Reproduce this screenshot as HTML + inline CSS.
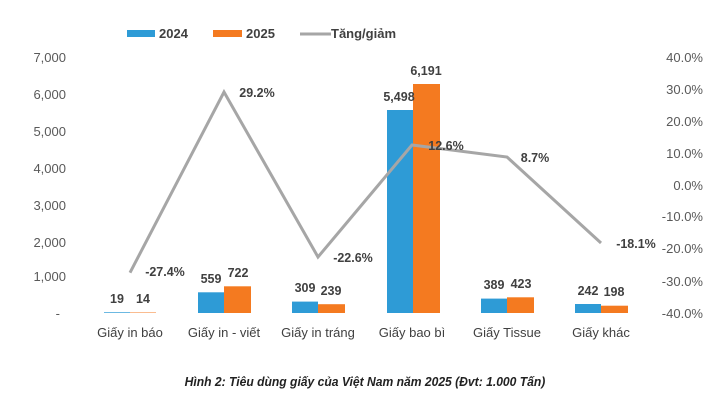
<!DOCTYPE html>
<html><head><meta charset="utf-8"><style>
body{margin:0;background:#fff;width:726px;height:402px;overflow:hidden}
</style></head><body>
<svg width="726" height="402" xmlns="http://www.w3.org/2000/svg" font-family="Liberation Sans, sans-serif">
<g font-size="13" fill="#595959" text-anchor="end">
<text x="66" y="62">7,000</text><text x="66" y="99">6,000</text><text x="66" y="136">5,000</text>
<text x="66" y="173">4,000</text><text x="66" y="210">3,000</text><text x="66" y="247">2,000</text>
<text x="66" y="281">1,000</text><text x="60" y="318">-</text>
</g>
<g font-size="13" fill="#595959" text-anchor="end">
<text x="703" y="62">40.0%</text><text x="703" y="94">30.0%</text><text x="703" y="126">20.0%</text>
<text x="703" y="158">10.0%</text><text x="703" y="190">0.0%</text><text x="703" y="221">-10.0%</text>
<text x="703" y="253">-20.0%</text><text x="703" y="286">-30.0%</text><text x="703" y="318">-40.0%</text>
</g>
<rect x="127" y="30" width="28" height="7" fill="#2e9bd6"/>
<text x="159" y="38" font-size="13" font-weight="bold" fill="#404040">2024</text>
<rect x="213" y="30" width="29" height="7" fill="#f47a20"/>
<text x="246" y="38" font-size="13" font-weight="bold" fill="#404040">2025</text>
<line x1="300" y1="34" x2="331" y2="34" stroke="#a6a6a6" stroke-width="3"/>
<text x="331" y="38" font-size="13" font-weight="bold" fill="#404040">Tăng/giảm</text>
<g fill="#2e9bd6">
<rect x="104" y="312.3" width="26" height="0.7"/>
<rect x="198" y="292.3" width="26" height="20.7"/>
<rect x="292" y="301.6" width="26" height="11.4"/>
<rect x="387" y="110" width="26" height="203"/>
<rect x="481" y="298.6" width="26" height="14.4"/>
<rect x="575" y="304" width="26" height="9"/>
</g>
<g fill="#f47a20">
<rect x="130" y="312.5" width="26" height="0.5"/>
<rect x="224" y="286.3" width="27" height="26.7"/>
<rect x="318" y="304.2" width="27" height="8.8"/>
<rect x="413" y="84" width="27" height="229"/>
<rect x="507" y="297.3" width="27" height="15.7"/>
<rect x="601" y="305.7" width="27" height="7.3"/>
</g>
<polyline points="130,272.7 224,92 318,257 412,145 507,157 601,243" fill="none" stroke="#a6a6a6" stroke-width="3"/>
<g font-size="12.5" font-weight="bold" fill="#404040" text-anchor="middle">
<text x="117" y="303">19</text><text x="143" y="303">14</text>
<text x="211" y="283">559</text><text x="238" y="277">722</text>
<text x="305" y="292">309</text><text x="331" y="295">239</text>
<text x="399" y="101">5,498</text><text x="426" y="75">6,191</text>
<text x="494" y="289">389</text><text x="521" y="288">423</text>
<text x="588" y="295">242</text><text x="614" y="296">198</text>
<text x="165" y="276">-27.4%</text><text x="257" y="97">29.2%</text>
<text x="353" y="262">-22.6%</text><text x="446" y="150">12.6%</text>
<text x="535" y="162">8.7%</text><text x="636" y="248">-18.1%</text>
</g>
<g font-size="13" fill="#404040" text-anchor="middle">
<text x="130" y="337">Giấy in báo</text><text x="224" y="337">Giấy in - viết</text>
<text x="318" y="337">Giấy in tráng</text><text x="412" y="337">Giấy bao bì</text>
<text x="507" y="337">Giấy Tissue</text><text x="601" y="337">Giấy khác</text>
</g>
<text x="365" y="386" font-size="12.5" font-weight="bold" font-style="italic" fill="#222" text-anchor="middle" transform="translate(365 0) scale(0.97 1) translate(-365 0)">Hình 2: Tiêu dùng giấy của Việt Nam năm 2025 (Đvt: 1.000 Tấn)</text>
</svg>
</body></html>
